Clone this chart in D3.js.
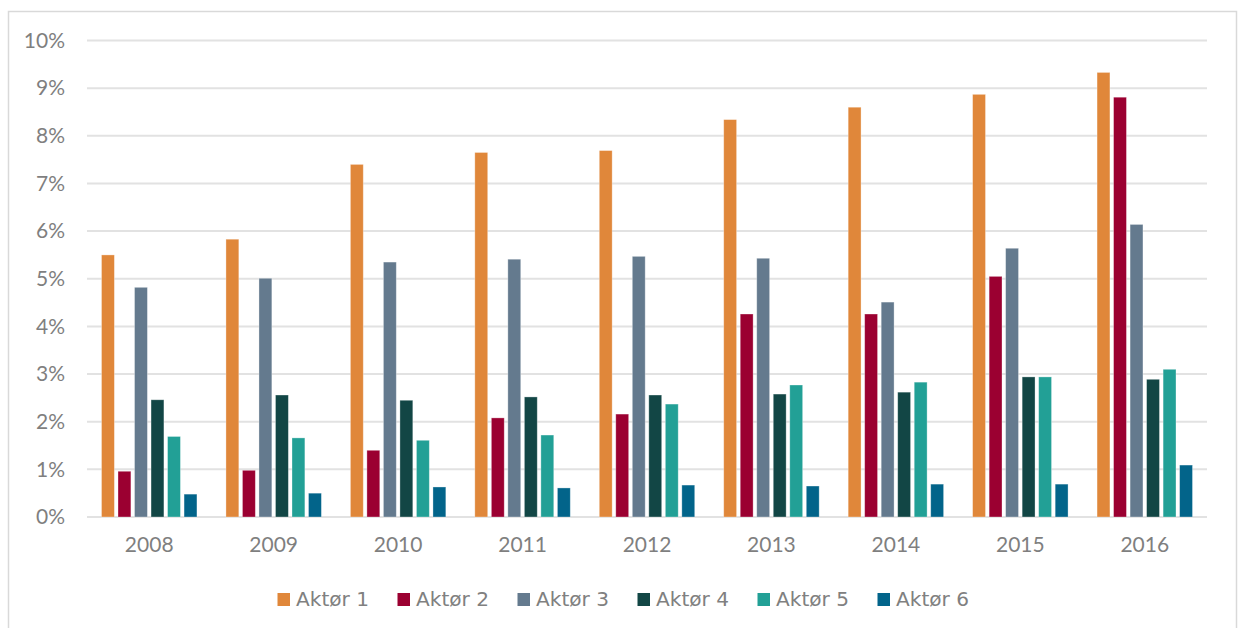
<!DOCTYPE html>
<html>
<head>
<meta charset="utf-8">
<script src="https://cdn.jsdelivr.net/npm/d3@7"></script>
<style>
  body { margin: 0; background: #fff; }
  .axis text { font-family: Lato, "Open Sans", sans-serif; fill: #7f7f7f; }
  .legend text { font-family: "DejaVu Sans", sans-serif; fill: #808080; }
</style>
</head>
<body>
<svg width="1240" height="628"></svg>
<script>
// Data (percent)
var years = ["2008", "2009", "2010", "2011", "2012", "2013", "2014", "2015", "2016"];
var series = ["Aktør 1", "Aktør 2", "Aktør 3", "Aktør 4", "Aktør 5", "Aktør 6"];
var aktor1 = [5.50, 5.83, 7.40, 7.65, 7.69, 8.34, 8.60, 8.87, 9.33];
var aktor2 = [0.96, 0.98, 1.40, 2.08, 2.16, 4.26, 4.26, 5.05, 8.81];
var aktor3 = [4.82, 5.01, 5.35, 5.41, 5.47, 5.43, 4.51, 5.64, 6.14];
var aktor4 = [2.46, 2.56, 2.45, 2.52, 2.56, 2.58, 2.62, 2.94, 2.89];
var aktor5 = [1.69, 1.66, 1.61, 1.72, 2.37, 2.77, 2.83, 2.94, 3.10];
var aktor6 = [0.48, 0.50, 0.63, 0.61, 0.67, 0.65, 0.69, 0.69, 1.09];
var yTicks = [0, 1, 2, 3, 4, 5, 6, 7, 8, 9, 10];
var colors = ["#e0873a", "#9b0031", "#647a8e", "#124645", "#22a096", "#02648a"];

var values = [aktor1, aktor2, aktor3, aktor4, aktor5, aktor6];

var svg = d3.select("svg");

// outer frame
svg.append("rect")
    .attr("x", 8.5).attr("y", 11.5)
    .attr("width", 1228).attr("height", 640)
    .attr("fill", "none")
    .attr("stroke", "#d9d9d9")
    .attr("stroke-width", 1.5);

var plotLeft = 87, plotRight = 1207, plotTop = 40.5, plotBottom = 517;

// Setting up the scaling
var x0 = d3.scaleBand().domain(years).range([plotLeft, plotRight]).padding(0);
var x1 = d3.scaleBand().domain(series)
    .range([14.5, x0.bandwidth() - 14.5])
    .paddingInner(0.22).paddingOuter(0);
var y = d3.scaleLinear().domain([0, 10]).range([plotBottom, plotTop]);

// gridlines
svg.append("g")
    .selectAll("line")
    .data(yTicks)
    .enter().append("line")
    .attr("x1", plotLeft).attr("x2", plotRight)
    .attr("y1", (d) => y(d)).attr("y2", (d) => y(d))
    .attr("stroke", "#e2e2e2")
    .attr("stroke-width", 2);

// Y-axis labels
var yAxis = svg.append("g")
    .attr("class", "axis")
    .attr("transform", "translate(" + plotLeft + ",0)")
    .call(d3.axisLeft(y).tickValues(yTicks).tickSize(0).tickPadding(22)
        .tickFormat((d) => d + "%"));
yAxis.select(".domain").remove();
yAxis.selectAll("text").attr("font-size", 21);

// X-axis labels
var xAxis = svg.append("g")
    .attr("class", "axis")
    .attr("transform", "translate(0," + plotBottom + ")")
    .call(d3.axisBottom(x0).tickSize(0).tickPadding(20));
xAxis.select(".domain").remove();
xAxis.selectAll("text").attr("font-size", 21);

// bars
var groups = svg.append("g")
    .selectAll("g")
    .data(years)
    .enter().append("g")
    .attr("transform", (d) => "translate(" + x0(d) + ",0)");

groups.selectAll("rect")
    .data((d, i) => series.map((s, j) => ({ s: s, v: values[j][i], c: colors[j] })))
    .enter().append("rect")
    .attr("x", (d) => x1(d.s))
    .attr("y", (d) => y(d.v))
    .attr("width", x1.bandwidth())
    .attr("height", (d) => plotBottom - y(d.v))
    .attr("fill", (d) => d.c)
    .attr("stroke", "#ffffff")
    .attr("stroke-opacity", 0.4)
    .attr("stroke-width", 0.8);

// legend
var legend = svg.append("g").attr("class", "legend");
var item = legend.selectAll("g")
    .data(series)
    .enter().append("g")
    .attr("transform", (d, i) => "translate(" + (277.5 + i * 120) + ",593)");
item.append("rect")
    .attr("width", 12.5).attr("height", 13)
    .attr("fill", (d, i) => colors[i]);
item.append("text")
    .attr("x", 18.5).attr("y", 13)
    .attr("font-size", 19.5)
    .attr("textLength", 73)
    .attr("lengthAdjust", "spacingAndGlyphs")
    .text((d) => d);
</script>
</body>
</html>
